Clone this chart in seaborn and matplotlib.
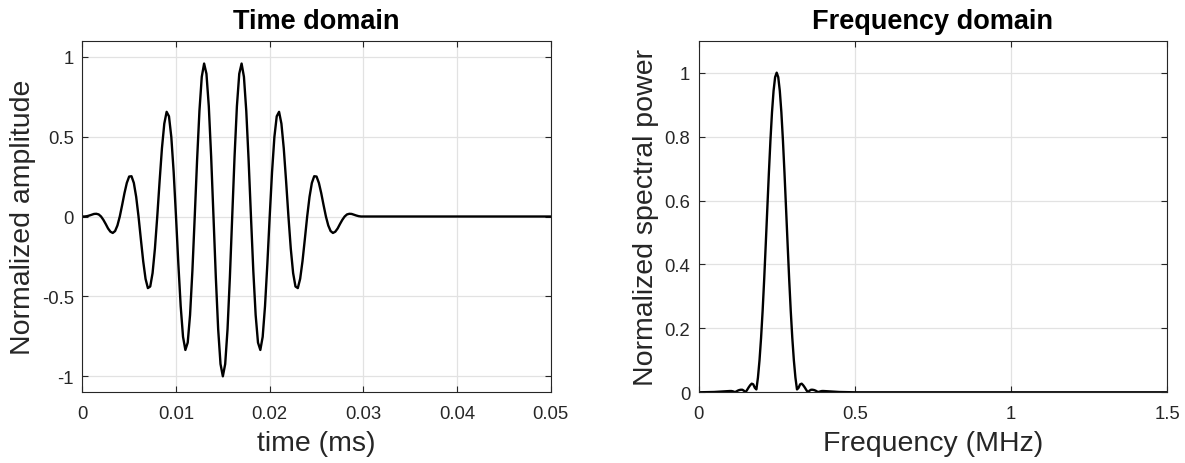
import numpy as np
import pandas as pd
import matplotlib
matplotlib.use("Agg")
import matplotlib.pyplot as plt
import seaborn as sns

# ---------------- data ----------------
# Tone burst samples, 0 .. 0.030 ms (step 0.00025 ms)
burst_amplitude = [
    0.000, 0.000, 0.002, 0.006, 0.011, 0.016, 0.017, 0.013, 0.000,
    -0.021, -0.047, -0.075, -0.095, -0.103, -0.091, -0.056, 0.000,
    0.071, 0.146, 0.210, 0.250, 0.252, 0.210, 0.123, 0.000,
    -0.142, -0.280, -0.390, -0.448, -0.438, -0.354, -0.201, 0.000,
    0.221, 0.427, 0.581, 0.655, 0.627, 0.497, 0.278, 0.000,
    -0.296, -0.561, -0.753, -0.835, -0.789, -0.616, -0.340, 0.000,
    0.352, 0.660, 0.874, 0.957, 0.893, 0.690, 0.376, 0.000,
    -0.380, -0.705, -0.923, -1.000,
    -0.923, -0.705, -0.380, 0.000,
    0.376, 0.690, 0.893, 0.957, 0.874, 0.660, 0.352, 0.000,
    -0.340, -0.616, -0.789, -0.835, -0.753, -0.561, -0.296, 0.000,
    0.278, 0.497, 0.627, 0.655, 0.581, 0.427, 0.221, 0.000,
    -0.201, -0.354, -0.438, -0.448, -0.390, -0.280, -0.142, 0.000,
    0.123, 0.210, 0.252, 0.250, 0.210, 0.146, 0.071, 0.000,
    -0.056, -0.091, -0.103, -0.095, -0.075, -0.047, -0.021, 0.000,
    0.013, 0.017, 0.016, 0.011, 0.006, 0.002, 0.000, 0.000,
]
burst_end_ms = 0.030
tail_time_ms = [0.050]
tail_amplitude = [0.000]

# Spectrum samples: 0.10 .. 0.40 MHz (step 0.005 MHz)
lobe_power = [
    0.004, 0.004, 0.003, 0.001, 0.002, 0.005, 0.007, 0.008, 0.008, 0.005,
    0.000, 0.007, 0.015, 0.022, 0.027, 0.025, 0.014, 0.009, 0.046, 0.100,
    0.170, 0.255, 0.354, 0.463, 0.575, 0.686, 0.788, 0.876, 0.943, 0.986,
    1.000,
    0.986, 0.943, 0.876, 0.788, 0.686, 0.575, 0.463, 0.354, 0.255, 0.170,
    0.100, 0.046, 0.009, 0.014, 0.025, 0.027, 0.022, 0.015, 0.007, 0.000,
    0.005, 0.008, 0.008, 0.007, 0.005, 0.002, 0.001, 0.003, 0.004, 0.004,
]
lobe_start_mhz, lobe_end_mhz = 0.10, 0.40
low_freq_mhz = [0.0, 0.05]
low_power = [0.000, 0.001]
high_freq_mhz = [0.45, 0.50, 1.50]
high_power = [0.001, 0.000, 0.000]

time_ticks = [0, 0.01, 0.02, 0.03, 0.04, 0.05]
time_tick_labels = ["0", "0.01", "0.02", "0.03", "0.04", "0.05"]
amp_ticks = [-1, -0.5, 0, 0.5, 1]
amp_tick_labels = ["-1", "-0.5", "0", "0.5", "1"]
freq_ticks = [0, 0.5, 1, 1.5]
freq_tick_labels = ["0", "0.5", "1", "1.5"]
power_ticks = [0, 0.2, 0.4, 0.6, 0.8, 1]
power_tick_labels = ["0", "0.2", "0.4", "0.6", "0.8", "1"]

# ---------------- assemble tables ----------------
time_ms = list(np.linspace(0.0, burst_end_ms, len(burst_amplitude))) + tail_time_ms
amplitude = burst_amplitude + tail_amplitude
df_time = pd.DataFrame({"time": time_ms, "amp": amplitude})

freq_mhz = (low_freq_mhz
            + list(np.linspace(lobe_start_mhz, lobe_end_mhz, len(lobe_power)))
            + high_freq_mhz)
power = low_power + lobe_power + high_power
df_freq = pd.DataFrame({"freq": freq_mhz, "power": power})

# ---------------- style ----------------
sns.set_theme(style="white")
plt.rcParams["font.family"] = ["Liberation Sans", "DejaVu Sans"]
plt.rcParams["axes.unicode_minus"] = False

DARK = "#262626"
GRID = "#e2e2e2"

W, H = 1185, 464
fig = plt.figure(figsize=(W / 100, H / 100), dpi=100)
ax_w, ax_h = 468.5 / W, 351.6 / H
bottom = 1 - 393.3 / H
ax1 = fig.add_axes([82.3 / W, bottom, ax_w, ax_h])
ax2 = fig.add_axes([698.6 / W, bottom, ax_w, ax_h])

line_kw = dict(color="black", linewidth=1.7, sort=False, estimator=None,
               solid_joinstyle="round", solid_capstyle="round")
sns.lineplot(data=df_time, x="time", y="amp", ax=ax1, **line_kw)
sns.lineplot(data=df_freq, x="freq", y="power", ax=ax2, **line_kw)


def style(ax, xticks, xlabels, yticks, ylabels, xlim, ylim, title, xlabel, ylabel):
    ax.set_facecolor("white")
    ax.set_xlim(*xlim)
    ax.set_ylim(*ylim)
    ax.set_xticks(xticks)
    ax.set_xticklabels(xlabels)
    ax.set_yticks(yticks)
    ax.set_yticklabels(ylabels)
    ax.grid(True, color=GRID, linewidth=0.9)
    ax.set_axisbelow(True)
    for s in ax.spines.values():
        s.set_visible(True)
        s.set_color(DARK)
        s.set_linewidth(0.8)
    ax.tick_params(direction="in", length=4.5, width=0.8, color=DARK,
                   labelcolor=DARK, labelsize=13.3, top=True, right=True,
                   bottom=True, left=True)
    ax.tick_params(axis="x", pad=9)
    ax.tick_params(axis="y", pad=6)
    ax.set_title(title, fontsize=19.5, fontweight="bold", color="black", pad=9)
    ax.set_xlabel(xlabel, fontsize=20.5, color=DARK, labelpad=6)
    ax.set_ylabel(ylabel, fontsize=20.5, color=DARK, labelpad=4)


style(ax1, time_ticks, time_tick_labels, amp_ticks, amp_tick_labels,
      (0, 0.05), (-1.1, 1.1), "Time domain", "time (ms)", "Normalized amplitude")
style(ax2, freq_ticks, freq_tick_labels, power_ticks, power_tick_labels,
      (0, 1.5), (0, 1.1), "Frequency domain", "Frequency (MHz)",
      "Normalized spectral power")

fig.savefig("out.png", dpi=100)
